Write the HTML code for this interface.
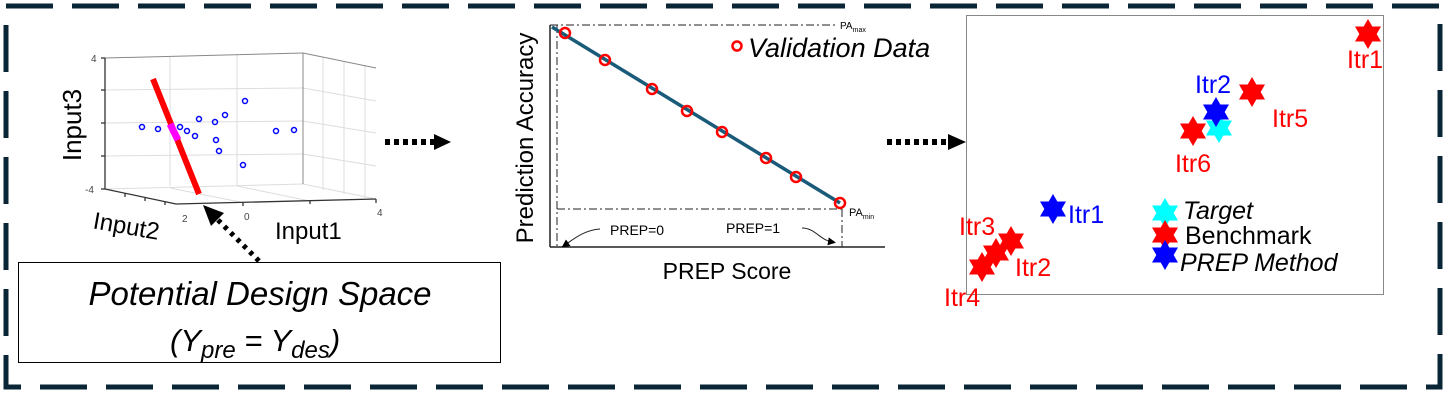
<!DOCTYPE html>
<html><head><meta charset="utf-8"><style>
html,body{margin:0;padding:0;background:#fff}
svg{display:block}
text{font-family:"Liberation Sans",Arial,sans-serif}
</style></head><body>
<svg width="1452" height="401" viewBox="0 0 1452 401" xmlns="http://www.w3.org/2000/svg">
<defs>
<polygon id="st" points="0,-15 4.33,-7.5 13,-7.5 8.66,0 13,7.5 4.33,7.5 0,15 -4.33,7.5 -13,7.5 -8.66,0 -13,-7.5 -4.33,-7.5"/>
<marker id="ah" markerWidth="8" markerHeight="8" refX="4" refY="4" orient="auto"><path d="M0,0 L8,4 L0,8 z" fill="#000"/></marker>
</defs>
<rect x="6" y="6" width="1434" height="381" fill="none" stroke="#0a2536" stroke-width="5" stroke-dasharray="47 19"/>

<g stroke="#ddd" stroke-width="1" fill="none">
<line x1="170" y1="57" x2="170" y2="186"/><line x1="237" y1="55" x2="237" y2="185"/>
<line x1="105" y1="90" x2="303" y2="88"/><line x1="105" y1="123" x2="303" y2="121"/><line x1="105" y1="156" x2="303" y2="154"/>
<line x1="303" y1="88" x2="376" y2="101"/><line x1="303" y1="121" x2="376" y2="133"/><line x1="303" y1="154" x2="376" y2="166"/>
<line x1="323" y1="57" x2="323" y2="190"/><line x1="344" y1="61" x2="344" y2="194"/><line x1="365" y1="65" x2="365" y2="198"/>
<line x1="105" y1="189" x2="303" y2="184"/><line x1="303" y1="184" x2="376" y2="199"/>
<line x1="170" y1="188" x2="240" y2="202"/><line x1="237" y1="186" x2="310" y2="201"/>
</g>
<g stroke="#888" stroke-width="1" fill="none">
<line x1="105" y1="58" x2="303" y2="53"/><line x1="303" y1="53" x2="376" y2="68"/><line x1="303" y1="53" x2="303" y2="184"/>
</g>
<g stroke="#333" stroke-width="1.3" fill="none">
<line x1="105" y1="58" x2="105" y2="189"/>
<line x1="105" y1="189" x2="176" y2="204"/><line x1="176" y1="204" x2="376" y2="199"/>
<line x1="105" y1="58" x2="101" y2="58"/><line x1="105" y1="90" x2="101" y2="90"/><line x1="105" y1="123" x2="101" y2="123"/><line x1="105" y1="156" x2="101" y2="156"/><line x1="105" y1="189" x2="101" y2="189"/>
<line x1="125" y1="193" x2="125" y2="197"/><line x1="145" y1="197" x2="145" y2="201"/><line x1="165" y1="201" x2="165" y2="205"/>
<line x1="243" y1="202" x2="243" y2="206"/><line x1="310" y1="200" x2="310" y2="204"/><line x1="376" y1="199" x2="376" y2="203"/>
</g>
<text x="91" y="62" font-size="10" fill="#444">4</text>
<text x="85" y="193" font-size="10" fill="#444">-4</text>
<text x="182" y="222" font-size="10" fill="#444">2</text>
<text x="244" y="220" font-size="10" fill="#444">0</text>
<text x="377" y="216" font-size="10" fill="#444">4</text>
<line x1="153" y1="79" x2="199" y2="194" stroke="#f00" stroke-width="6"/>
<line x1="170" y1="124" x2="178" y2="140" stroke="#f0f" stroke-width="7"/>
<g fill="none" stroke="#00f" stroke-width="1.5">
<circle cx="142" cy="127" r="2.5"/><circle cx="158" cy="129" r="2.5"/><circle cx="180" cy="127" r="2.5"/><circle cx="187" cy="131" r="2.5"/><circle cx="195" cy="136" r="2.5"/><circle cx="199" cy="119" r="2.5"/><circle cx="215" cy="122" r="2.5"/><circle cx="225" cy="115" r="2.5"/><circle cx="245" cy="101" r="2.5"/><circle cx="216" cy="140" r="2.5"/><circle cx="219" cy="151" r="2.5"/><circle cx="243" cy="165" r="2.5"/><circle cx="276" cy="131" r="2.5"/><circle cx="294" cy="130" r="2.5"/>
</g>
<text transform="translate(81,125) rotate(-90)" font-size="26" text-anchor="middle">Input3</text>
<text transform="translate(125,234) rotate(10)" font-size="24" text-anchor="middle">Input2</text>
<text x="275" y="239" font-size="24">Input1</text>
<line x1="385" y1="142" x2="436" y2="142" stroke="#000" stroke-width="6" stroke-dasharray="5 4"/>
<path d="M434,134 L451,142 L434,150 z" fill="#000"/>
<line x1="887" y1="142" x2="950" y2="142" stroke="#000" stroke-width="6" stroke-dasharray="5 4"/>
<path d="M948,134 L966,142 L948,150 z" fill="#000"/>
<line x1="259" y1="261" x2="217" y2="219" stroke="#000" stroke-width="5" stroke-dasharray="4 5"/>
<path d="M203,205 L224,213 L211,226 z" fill="#000"/>
<rect x="18.5" y="262.5" width="482" height="100" fill="#fff" stroke="#000" stroke-width="1"/>
<text x="260" y="305" font-size="33" font-style="italic" text-anchor="middle">Potential Design Space</text>
<text x="170" y="351" font-size="31" font-style="italic">(Y<tspan font-size="24" dy="7">pre</tspan><tspan dy="-7"> = Y</tspan><tspan font-size="24" dy="7">des</tspan><tspan dy="-7">)</tspan></text>

<g stroke="#222" fill="none">
<line x1="550" y1="25" x2="550" y2="247" stroke-width="1.5"/>
<line x1="550" y1="247" x2="885" y2="247" stroke-width="1.5"/>
<g stroke-width="1" stroke-dasharray="8 3 2 3">
<line x1="550" y1="25" x2="835" y2="25"/><line x1="557" y1="25" x2="557" y2="247"/>
<line x1="557" y1="209" x2="842" y2="209"/><line x1="842" y1="209" x2="842" y2="247"/>
</g>
<path d="M600,229 C585,230 575,238 565,245" stroke-width="1" marker-end="url(#ah)"/>
<path d="M802,228 C815,228 820,240 832,242" stroke-width="1" marker-end="url(#ah)"/>
</g>
<text x="840" y="29" font-size="10">PA<tspan font-size="7" dy="3">max</tspan></text>
<text x="849" y="216" font-size="11">PA<tspan font-size="7" dy="3">min</tspan></text>
<text x="610" y="235" font-size="14">PREP=0</text>
<text x="726" y="233" font-size="14">PREP=1</text>
<line x1="552" y1="27" x2="840" y2="203" stroke="#1b5b7a" stroke-width="3.5"/>
<g fill="none" stroke="#f00" stroke-width="2.5">
<circle cx="565" cy="33" r="5"/><circle cx="605" cy="60" r="5"/><circle cx="652" cy="89" r="5"/><circle cx="687" cy="111" r="5"/><circle cx="722" cy="132" r="5"/><circle cx="766" cy="158" r="5"/><circle cx="796" cy="177" r="5"/><circle cx="840" cy="203" r="5"/>
<circle cx="737" cy="46" r="4.5"/>
</g>
<text x="748" y="57" font-size="27" font-style="italic">Validation Data</text>
<text transform="translate(533,138) rotate(-90)" font-size="24" text-anchor="middle">Prediction Accuracy</text>
<text x="727" y="279" font-size="23" text-anchor="middle">PREP Score</text>

<rect x="966.5" y="15.5" width="417" height="279" fill="none" stroke="#888" stroke-width="1"/>
<use href="#st" x="1368" y="34" fill="#f00"/>
<use href="#st" x="1252" y="92" fill="#f00"/>
<use href="#st" x="1219" y="128" fill="#0ff"/>
<use href="#st" x="1216" y="112" fill="#00f"/>
<use href="#st" x="1193" y="131" fill="#f00"/>
<use href="#st" x="1053" y="209" fill="#00f"/>
<use href="#st" x="1011" y="241" fill="#f00"/>
<use href="#st" x="996" y="253" fill="#f00"/>
<use href="#st" x="982" y="267" fill="#f00"/>
<use href="#st" x="1165" y="213" fill="#0ff"/>
<use href="#st" x="1165" y="235" fill="#f00"/>
<use href="#st" x="1165" y="255" fill="#00f"/>
<g font-size="25">
<text x="1365" y="68" fill="#f00" text-anchor="middle">Itr1</text>
<text x="1213" y="93" fill="#00f" text-anchor="middle">Itr2</text>
<text x="1272" y="127" fill="#f00">Itr5</text>
<text x="1193" y="172" fill="#f00" text-anchor="middle">Itr6</text>
<text x="1068" y="223" fill="#00f">Itr1</text>
<text x="959" y="235" fill="#f00">Itr3</text>
<text x="1015" y="276" fill="#f00">Itr2</text>
<text x="944" y="306" fill="#f00">Itr4</text>
<text x="1183" y="219" font-style="italic">Target</text>
<text x="1185" y="244">Benchmark</text>
<text x="1180" y="271" font-style="italic">PREP Method</text>
</g>
</svg>
</body></html>
